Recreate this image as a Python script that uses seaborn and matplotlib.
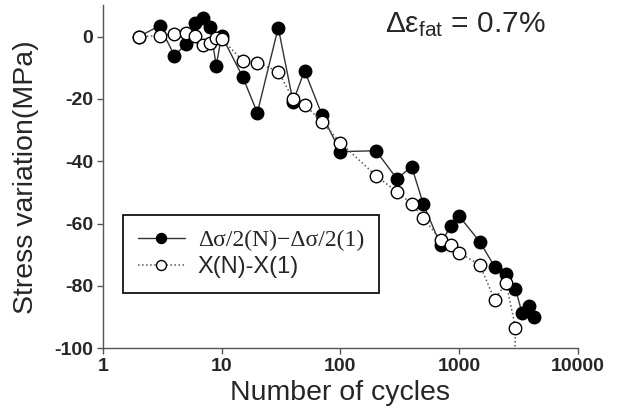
import numpy as np
import pandas as pd
import matplotlib
matplotlib.use("Agg")
import matplotlib.pyplot as plt
import seaborn as sns

# Data
cycles_amp = [2, 3, 4, 5, 6, 7, 8, 9, 10, 15, 20, 30, 40, 50, 70, 100, 200, 300,
              400, 500, 700, 850, 1000, 1500, 2000, 2500, 3000, 3400, 3900, 4300]
stress_amp = [0, 3.5, -6.1, -2.4, 4.5, 6.1, 3.2, -9.3, 0.3, -12.8, -24.4, 2.9, -20.9,
              -10.9, -25.0, -36.9, -36.6, -45.6, -41.7, -53.6, -66.8, -60.7, -57.5,
              -65.8, -73.8, -76.0, -80.9, -88.6, -86.3, -89.9]

cycles_x = [2, 3, 4, 5, 6, 7, 8, 9, 10, 15, 20, 30, 40, 50, 70, 100, 200, 300,
            400, 500, 700, 850, 1000, 1500, 2000, 2500, 3000, 2900]
stress_x = [0, 0.3, 1.0, 1.3, 0.3, -2.6, -1.9, -0.3, -0.6, -7.7, -8.3, -11.2, -20.0,
            -21.8, -27.3, -34.0, -44.6, -49.8, -53.6, -58.1, -65.2, -66.8, -69.3,
            -73.2, -84.4, -79.0, -93.4, -115.0]

label_amp = "Δσ/2(N)−Δσ/2(1)"
label_x = "X(N)-X(1)"
x_ticks = [1, 10, 100, 1000, 10000]
y_ticks = [0, -20, -40, -60, -80, -100]

sns.set_style("ticks")
plt.rcParams["font.family"] = ["Liberation Sans", "DejaVu Sans"]
plt.rcParams["axes.unicode_minus"] = False
plt.rcParams["mathtext.fontset"] = "custom"
plt.rcParams["mathtext.rm"] = "Liberation Sans"

df_amp = pd.DataFrame({"N": cycles_amp, "stress": stress_amp})
df_x = pd.DataFrame({"N": cycles_x, "stress": stress_x})

fig = plt.figure(figsize=(6.19, 4.19), dpi=100)
ax = fig.add_axes([0.1664, 0.1687, 0.933 - 0.1664, 0.9869 - 0.1687])

sns.lineplot(data=df_amp, x="N", y="stress", sort=False, estimator=None, ax=ax,
             color="#333333", linewidth=1.0, marker="o", markersize=9,
             markerfacecolor="black", markeredgecolor="black", markeredgewidth=1,
             label=label_amp)
sns.lineplot(data=df_x, x="N", y="stress", sort=False, estimator=None, ax=ax,
             color="#555555", linewidth=1.1, linestyle=":", marker="o", markersize=9,
             markerfacecolor="white", markeredgecolor="black", markeredgewidth=1,
             label=label_x)

ax.set_xscale("log")
ax.set_xlim(1, 10000)
ax.set_ylim(-100, 10)
ax.set_xticks(x_ticks, [str(t) for t in x_ticks])
ax.set_yticks(y_ticks, [str(t) for t in y_ticks])
ax.xaxis.set_minor_locator(matplotlib.ticker.NullLocator())
for lab in ax.get_xticklabels() + ax.get_yticklabels():
    lab.set_fontweight("bold")
    lab.set_fontsize(14)
ax.tick_params(direction="out", length=4, width=1, color="#555555", pad=3)

for side in ["top", "right"]:
    ax.spines[side].set_visible(False)
for side in ["left", "bottom"]:
    ax.spines[side].set_color("#555555")
    ax.spines[side].set_linewidth(1)

ax.set_xlabel("Number of cycles", fontsize=20.5)
ax.set_ylabel("Stress variation(MPa)", fontsize=20.5)
ax.xaxis.set_label_coords(0.5, -0.092)
ax.yaxis.set_label_coords(-0.135, 0.5)

leg = ax.legend(loc="upper left", bbox_to_anchor=(123 / 619, 1 - 215 / 419),
                bbox_transform=fig.transFigure, fontsize=17, frameon=True,
                fancybox=False, framealpha=1, edgecolor="black", borderpad=0.62,
                labelspacing=0.22, handlelength=2.0, handletextpad=0.55,
                borderaxespad=0, markerscale=0.8)
leg.get_frame().set_linewidth(1.2)
leg.get_texts()[0].set_fontfamily(["Liberation Serif", "DejaVu Serif"])

fig.text(385 / 619, 1 - 32 / 419, r"$\mathregular{Δε_{fat}}$ = 0.7%",
         fontsize=21.5, va="baseline", ha="left")

fig.savefig("out.png", dpi=100)
